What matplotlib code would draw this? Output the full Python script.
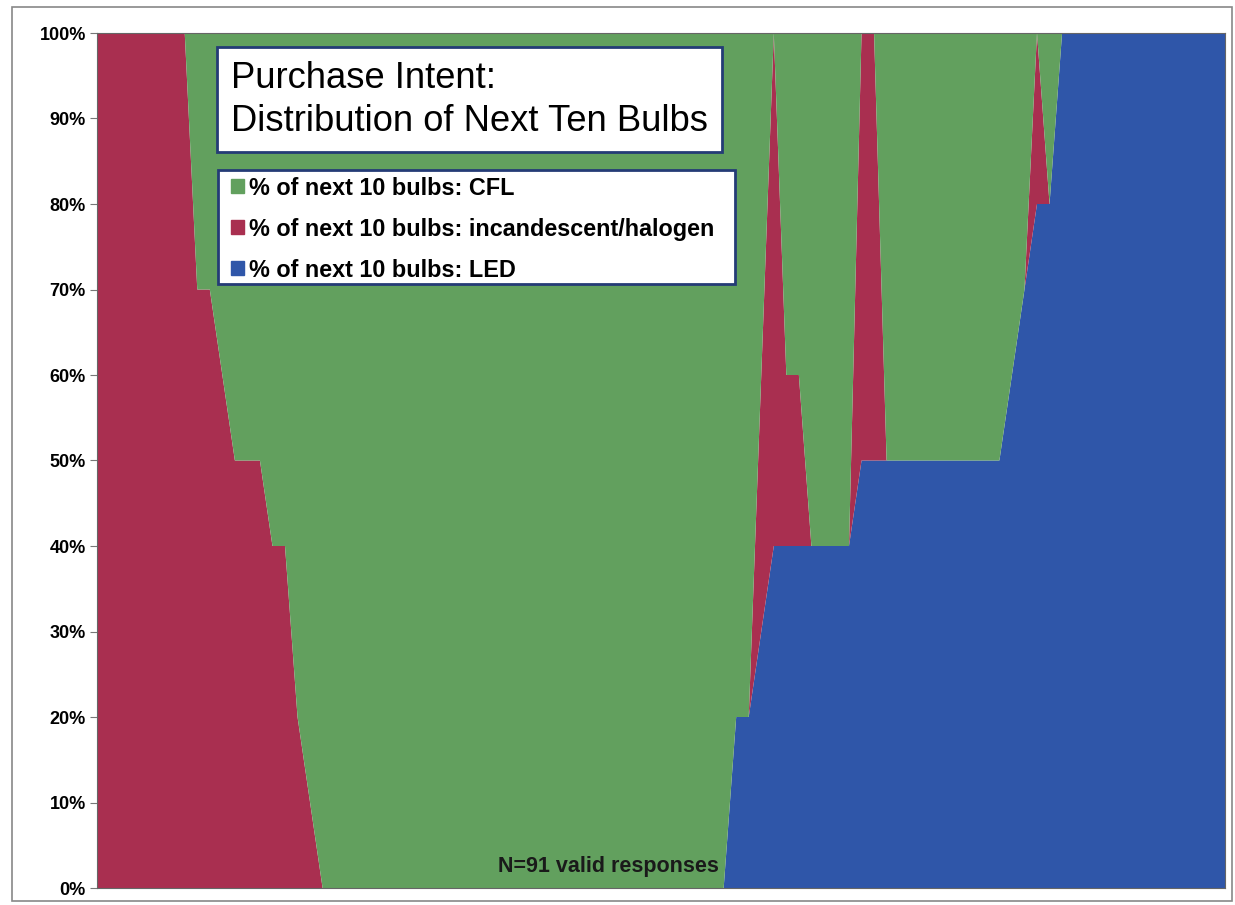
import numpy as np
import matplotlib
matplotlib.use("Agg")
import matplotlib.pyplot as plt
from matplotlib.patches import Patch, Rectangle

plt.rcParams["font.family"] = ["Liberation Sans", "DejaVu Sans"]

# ==========================================
# DATA: share of next 10 bulbs, one column per respondent (sorted)
# ==========================================

led_pct = [
    0, 0, 0, 0, 0, 0, 0, 0, 0, 0,
    0, 0, 0, 0, 0, 0, 0, 0, 0, 0,
    0, 0, 0, 0, 0, 0, 0, 0, 0, 0,
    0, 0, 0, 0, 0, 0, 0, 0, 0, 0,
    0, 0, 0, 0, 0, 0, 0, 0, 0, 0,
    0, 20, 20, 30, 40, 40, 40, 40, 40, 40,
    40, 50, 50, 50, 50, 50, 50, 50, 50, 50,
    50, 50, 50, 60, 70, 80, 80, 100, 100, 100,
    100, 100, 100, 100, 100, 100, 100, 100, 100, 100,
    100,
]

incandescent_pct = [
    100, 100, 100, 100, 100, 100, 100, 100, 70, 70,
    60, 50, 50, 50, 40, 40, 20, 10, 0, 0,
    0, 0, 0, 0, 0, 0, 0, 0, 0, 0,
    0, 0, 0, 0, 0, 0, 0, 0, 0, 0,
    0, 0, 0, 0, 0, 0, 0, 0, 0, 0,
    0, 0, 0, 30, 60, 20, 20, 0, 0, 0,
    0, 50, 50, 0, 0, 0, 0, 0, 0, 0,
    0, 0, 0, 0, 0, 20, 0, 0, 0, 0,
    0, 0, 0, 0, 0, 0, 0, 0, 0, 0,
    0,
]

cfl_pct = [
    0, 0, 0, 0, 0, 0, 0, 0, 30, 30,
    40, 50, 50, 50, 60, 60, 80, 90, 100, 100,
    100, 100, 100, 100, 100, 100, 100, 100, 100, 100,
    100, 100, 100, 100, 100, 100, 100, 100, 100, 100,
    100, 100, 100, 100, 100, 100, 100, 100, 100, 100,
    100, 80, 80, 40, 0, 40, 40, 60, 60, 60,
    60, 0, 0, 50, 50, 50, 50, 50, 50, 50,
    50, 50, 50, 40, 30, 0, 20, 0, 0, 0,
    0, 0, 0, 0, 0, 0, 0, 0, 0, 0,
    0,
]

labels = [
    "% of next 10 bulbs: CFL",
    "% of next 10 bulbs: incandescent/halogen",
    "% of next 10 bulbs: LED",
]
y_ticks = [0, 10, 20, 30, 40, 50, 60, 70, 80, 90, 100]

green = "#62a05e"
red = "#a92f50"
blue = "#2f56a9"
navy = "#243b76"

W, H = 1235, 905

# ==========================================
# FIGURE
# ==========================================

fig = plt.figure(figsize=(W / 100, H / 100), dpi=100)
ax = fig.add_axes([97 / W, 1 - 888 / H, 1128 / W, 855 / H])

x = np.arange(len(led_pct))
ax.stackplot(
    x,
    led_pct,
    incandescent_pct,
    cfl_pct,
    colors=[blue, red, green],
    linewidth=0,
)

ax.set_xlim(x[0], x[-1])
ax.set_ylim(0, 100)
ax.set_xticks([])
ax.set_yticks(y_ticks)
ax.set_yticklabels([f"{v}%" for v in y_ticks], fontsize=13, fontweight="bold")
ax.tick_params(axis="y", length=5, width=0.8, color="#777777", pad=3)

for side in ["left", "top", "right", "bottom"]:
    ax.spines[side].set_color("#666666")
    ax.spines[side].set_linewidth(0.8)

# title box
ax.text(
    (231 - 97) / 1128, 1 - (61 - 33) / 855,
    "Purchase Intent:\nDistribution of Next Ten Bulbs",
    transform=ax.transAxes, fontsize=26.2, va="top", ha="left",
    linespacing=1.28,
    bbox=dict(boxstyle="square,pad=0.38", fc="white", ec=navy, lw=2),
)

# legend: white panel with its own frame, entries listed top-down like the stack
ax.add_patch(Rectangle(
    (218 / W, 1 - 284 / H), 517 / W, 114 / H,
    transform=fig.transFigure, fc="white", ec=navy, lw=2, zorder=4,
    clip_on=False,
))
handles = [Patch(color=green), Patch(color=red), Patch(color=blue)]
leg = ax.legend(
    handles, labels,
    loc="upper left",
    bbox_to_anchor=(226 / W, 1 - 172 / H),
    bbox_transform=fig.transFigure,
    prop={"size": 16.8, "weight": "bold"},
    frameon=False,
    handlelength=0.55, handleheight=0.55, handletextpad=0.25,
    labelspacing=0.77, borderpad=0.2, borderaxespad=0,
)
leg.set_zorder(5)

ax.text(
    0.4535, 0.025, "N=91 valid responses",
    transform=ax.transAxes, fontsize=15.5, fontweight="bold",
    color="#1a1a1a", ha="center", va="center",
)

# outer chart border
fig.patches.append(Rectangle(
    (12 / W, 4 / H), 1220 / W, 894 / H,
    transform=fig.transFigure, fill=False, ec="#888888", lw=1.2,
))

fig.savefig("out.png", dpi=100)
